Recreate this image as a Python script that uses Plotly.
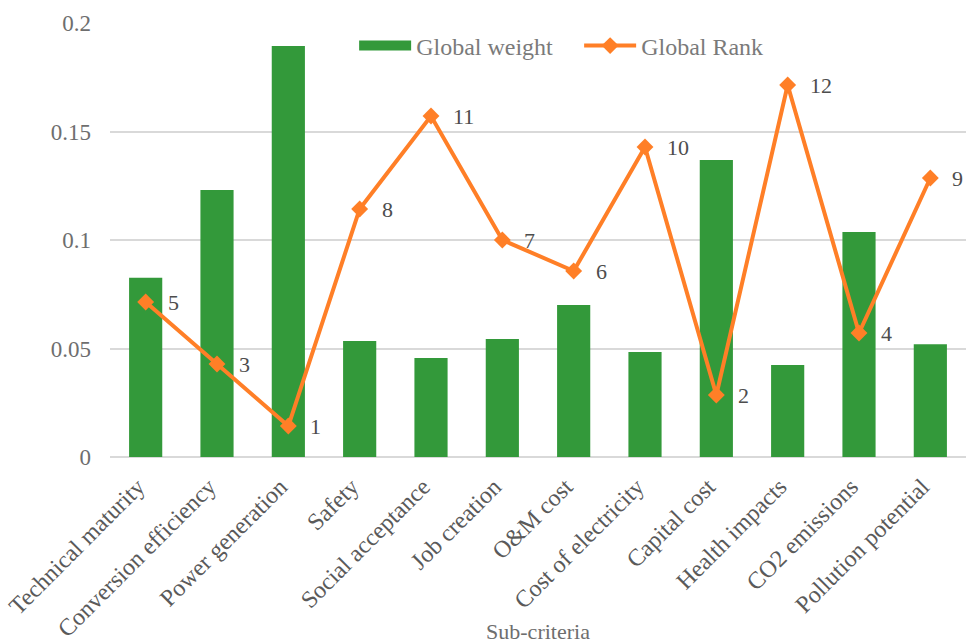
import plotly.graph_objects as go

# Sub-criteria and their AHP results
criteria = [
    "Technical maturity", "Conversion efficiency", "Power generation", "Safety",
    "Social acceptance", "Job creation", "O&M cost", "Cost of electricity",
    "Capital cost", "Health impacts", "CO2 emissions", "Pollution potential",
]
global_weight = [0.0826, 0.123, 0.1894, 0.0535, 0.0456, 0.0544,
                 0.070, 0.0484, 0.1369, 0.0424, 0.1037, 0.052]
global_rank = [5, 3, 1, 8, 11, 7, 6, 10, 2, 12, 4, 9]

y_ticks = [0, 0.05, 0.1, 0.15, 0.2]
y_tick_text = ["0", "0.05", "0.1", "0.15", "0.2"]

FONT = "Liberation Serif"
GREY = "#6e6e6e"
DARK_GREY = "#5a5a5a"
GREEN = "#33993a"
ORANGE = "#ff7f27"

fig = go.Figure()

fig.add_trace(go.Bar(
    x=criteria, y=global_weight, name="Global weight",
    marker=dict(color=GREEN, line=dict(width=0)),
    showlegend=False,
))
# wide swatch for the bar series in the legend
fig.add_trace(go.Scatter(
    x=[None], y=[None], name="Global weight", mode="lines",
    line=dict(color=GREEN, width=12), showlegend=True,
))

fig.add_trace(go.Scatter(
    x=criteria, y=global_rank, name="Global Rank", yaxis="y2",
    mode="lines+markers",
    line=dict(color=ORANGE, width=4),
    marker=dict(symbol="diamond", size=13, color=ORANGE),
    cliponaxis=False,
))

# rank labels to the right of each marker
for c, r in zip(criteria, global_rank):
    fig.add_annotation(
        x=c, y=r, xref="x", yref="y2", text=str(r), showarrow=False,
        xanchor="left", yanchor="middle", xshift=20, yshift=0,
        font=dict(family=FONT, size=22, color="#4d4d4d"),
    )

fig.update_layout(
    width=966, height=644,
    margin=dict(l=110, r=0, t=23, b=187, autoexpand=False),
    paper_bgcolor="white", plot_bgcolor="white",
    font=dict(family=FONT, size=24, color=GREY),
    bargap=0.535,
    showlegend=True,
    legend=dict(
        orientation="h", x=0.2852, y=0.947, xanchor="left", yanchor="middle",
        font=dict(family=FONT, size=24, color="#7a7a7a"),
        bgcolor="rgba(0,0,0,0)", itemwidth=52, tracegroupgap=0,
        entrywidth=158, entrywidthmode="pixels",
    ),
    xaxis=dict(
        range=[-0.5, len(criteria) - 0.5], automargin=False,
        tickangle=-45, tickfont=dict(family=FONT, size=24, color=DARK_GREY),
        showgrid=False, showline=False, ticks="",
        ticklabelshift=-8, ticklabelstandoff=10,
        title=dict(text="Sub-criteria", font=dict(family=FONT, size=22, color=GREY),
                   standoff=0),
    ),
    yaxis=dict(
        range=[0, 0.2], tickvals=y_ticks, ticktext=y_tick_text, automargin=False,
        tickfont=dict(family=FONT, size=23, color=GREY),
        showgrid=True, gridcolor="#d9d9d9", gridwidth=1.5,
        zeroline=True, zerolinecolor="#d9d9d9", zerolinewidth=2,
        showline=False, ticks="", ticklabelstandoff=18,
    ),
    yaxis2=dict(
        range=[0, 14], overlaying="y", side="right", visible=False,
        showgrid=False, zeroline=False,
    ),
)

fig.write_html("out.html")
